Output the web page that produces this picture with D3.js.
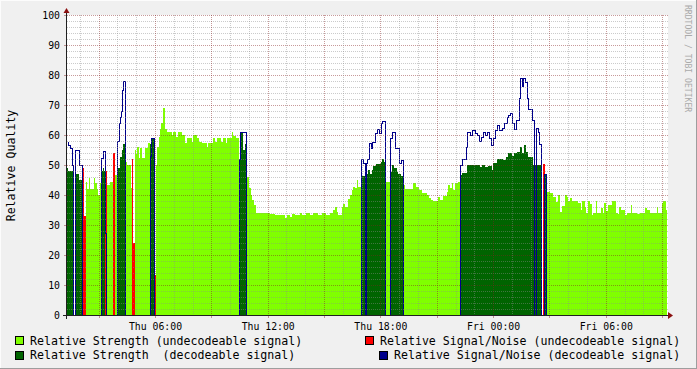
<!DOCTYPE html>
<html><head><meta charset="utf-8">
<script src="https://cdn.jsdelivr.net/npm/d3@7"></script>
<style>
html,body{margin:0;padding:0;background:#f0f0f0;}
svg{display:block;}
text{font-family:"DejaVu Sans Mono",monospace;}
</style></head><body>
<svg id="c" width="697" height="369"></svg>
<script>
// ---- DATA: [hours since Thu 00:00, value] (step series) ----
const strengthUndecodeable = [[1.31,0],[2.30,44.5],[2.38,42],[2.46,45.5],[2.54,42],[2.73,45.5],[2.83,44],[2.90,42],[2.99,40],[3.07,44],[3.11,0],
[3.42,43.3],[3.60,44.5],[3.76,0],[3.87,46.5],[3.99,0],[4.40,51],[4.51,50],[4.71,42.2],[4.76,0],
[4.92,55],[4.99,53.7],[5.06,56.1],[5.13,52.2],[5.20,55.8],[5.29,52.2],[5.47,55.8],[5.64,57.2],[5.71,0],
[6.05,50],[6.12,56],[6.21,59.5],[6.28,62],[6.34,64],[6.41,69],[6.53,62],[6.62,61.1],[6.89,60],[6.97,61],[7.10,59.4],[7.24,61],[7.42,60],
[7.60,57.4],[7.69,58.9],[7.95,57.8],[8.04,60],[8.22,58.9],[8.36,57.8],[8.49,57.2],[8.75,56.1],[8.84,57.2],[9.07,58.9],[9.19,57.8],
[9.32,58.9],[9.50,57.8],[9.60,58.9],[9.76,57.2],[9.85,58.9],[10.08,60.9],[10.17,59.8],[10.31,58.9],[10.47,0],
[10.91,46],[11.01,42.5],[11.11,40],[11.19,38.3],[11.27,36.7],[11.38,34],[12.12,33.6],[12.39,33.2],[12.92,32.4],[13.01,33.4],[13.19,32.7],
[13.28,33.7],[13.45,33.2],[13.72,33.9],[13.81,33.4],[14.04,33.9],[14.25,33.2],[14.41,33.9],[14.68,33.4],[14.89,33.9],[15.11,33.4],
[15.32,33.9],[15.49,35],[15.58,35.9],[15.68,34.4],[15.76,33.3],[15.94,36.1],[16.03,37],[16.12,36.1],[16.29,38.6],[16.38,40],[16.51,41.7],
[16.56,42.6],[16.65,42.2],[16.74,45],[16.83,42.6],[16.95,0],[18.26,44.5],[18.51,0],
[19.19,43.3],[19.31,41.9],[19.75,44.1],[19.90,42.6],[20.07,41.7],[20.20,40.6],[20.47,40],[20.59,39.1],[20.70,38.3],[20.82,38],[21.09,39.4],
[21.18,38.5],[21.35,39.7],[21.53,41.1],[21.62,43.3],[21.71,42.2],[21.80,43.9],[21.88,41.7],[21.97,43.9],[22.15,44.5],[22.24,0],
[26.82,41.1],[27.03,40.6],[27.19,39.4],[27.35,37.8],[27.46,40],[27.54,34.4],[27.67,36.3],[27.83,40],[27.95,39.4],[28.01,38.1],[28.10,38.9],
[28.19,38.1],[28.54,37.2],[28.67,35],[28.72,38.1],[28.90,36.1],[28.95,34.1],[29.07,38.1],[29.16,37],[29.25,33.3],[29.34,34.1],[29.48,38.1],
[29.55,34.1],[29.73,35.6],[29.84,34.1],[29.92,37.2],[30.01,34.8],[30.11,36.7],[30.32,38],[30.55,34.1],[30.64,33.6],[30.72,36.1],[30.80,35],
[31.03,33.3],[31.12,34.1],[31.33,36.7],[31.38,34.1],[31.68,33.6],[31.83,34.1],[32.09,35.6],[32.18,35],[32.36,34.1],[32.71,36.1],[32.77,34.1],
[32.98,37.2],[33.07,38],[33.19,35],[33.25,0]];

const snrUndecodeable = [[1.31,0],[1.62,50],[1.70,0],[2.14,49],[2.22,33],[2.30,0],[3.34,48],[3.42,0],[3.76,54],[3.87,0],
[4.76,51.9],[4.83,24],[4.92,0],[5.98,13.3],[6.05,0],[10.85,58.9],[10.91,0],[26.64,50.5],[26.75,0],[33.25,0]];

const strengthDecodeable = [[1.31,48.9],[1.37,48],[1.62,0],[1.74,47],[1.97,45],[2.11,0],[3.11,48],[3.22,48.9],[3.28,48],[3.32,0],
[3.99,49],[4.14,52.7],[4.24,55],[4.31,57],[4.40,0],[5.71,57],[5.81,58.9],[5.96,0],[10.47,52],[10.53,61],[10.67,55],[10.81,57],[10.86,0],
[16.95,46.3],[17.22,47.1],[17.36,48.3],[17.45,47.1],[17.54,48.5],[17.62,49.6],[17.75,50.2],[17.84,50.4],[18.02,51],[18.10,52],[18.19,51],[18.26,0],
[18.51,47.7],[18.62,50],[18.73,48.9],[18.87,47.8],[18.96,47],[19.08,46.3],[19.19,0],
[22.24,46.7],[22.33,47.2],[22.60,50],[23.31,49.2],[23.40,50],[23.57,49.2],[23.75,49.7],[23.93,48.3],[24.01,50.8],[24.19,51.9],[24.55,51.7],
[24.67,52.8],[24.81,53.9],[24.99,53],[25.12,53.9],[25.26,54.4],[25.44,55.9],[25.53,54.1],[25.65,56.7],[25.76,54.4],[25.88,52.8],[26.14,50],
[26.55,0],[26.75,47],[26.82,0],[33.25,0]];

const snrDecodeable = [[1.31,57.8],[1.38,56.7],[1.47,55.7],[1.60,50],[1.65,0],[1.74,55],[1.97,50],[2.11,0],[3.11,52.2],[3.22,54.8],[3.32,27.2],[3.38,0],
[3.99,58],[4.07,64],[4.11,66],[4.21,68],[4.26,75],[4.31,78],[4.40,0],[5.71,53],[5.81,59],[5.96,0],[10.47,52],[10.53,61],[10.86,0],
[16.95,51.9],[17.06,50.6],[17.16,0],[17.21,50.6],[17.30,51.9],[17.40,57.2],[17.49,55.6],[17.57,57.8],[17.71,60.6],[17.81,61.9],[17.93,60.6],
[18.02,63.9],[18.10,64.8],[18.26,0],[18.51,58.9],[18.62,60.9],[18.80,55.6],[19.01,50.6],[19.10,51.7],[19.19,0],
[22.24,50],[22.33,52],[22.56,56.1],[22.63,61.1],[22.77,60],[22.86,61.7],[23.04,60.8],[23.16,60],[23.27,58],[23.34,59.4],[23.45,61.1],[23.57,60],
[23.66,61.1],[23.80,58.9],[23.88,56.7],[23.98,59.1],[24.10,61.7],[24.23,63.3],[24.33,61.7],[24.46,62.2],[24.58,63.9],[24.73,65.9],[24.81,66.7],
[24.90,67.2],[24.99,63.9],[25.12,62],[25.22,65],[25.37,72.2],[25.44,78.9],[25.53,76.3],[25.61,78.9],[25.72,77.8],[25.79,72.2],[25.88,68.6],
[26.06,65],[26.18,0],[26.27,62.4],[26.38,61.1],[26.45,57],[26.55,0],[26.73,46.9],[26.82,0],[33.25,0]];

const timeDomainHours = [1.314, 33.314];
const yTickValues = [0,10,20,30,40,50,60,70,80,90,100];
const xTickHours = [6,12,18,24,30];
const xTickLabels = ["Thu 06:00","Thu 12:00","Thu 18:00","Fri 00:00","Fri 06:00"];
const legendLabels = ["Relative Strength (undecodeable signal)","Relative Signal/Noise (undecodeable signal)",
                      "Relative Strength  (decodeable signal)","Relative Signal/Noise (decodeable signal)"];
const yAxisTitle = "Relative Quality";
const watermark = "RRDTOOL / TOBI OETIKER";

// ---- RENDER ----
const W = 697, H = 369, X0 = 67, X1 = 668, Y0 = 315, Y1 = 15;
const C_LG = "#80ff00", C_DG = "#006400", C_RED = "#ff0000", C_BLUE = "#00008b";
const T = h => new Date(Date.UTC(2024,0,4) + h*3600000);
const svg = d3.select("#c");
const x = d3.scaleUtc().domain(timeDomainHours.map(T)).range([X0, X1]);
const y = d3.scaleLinear().domain([0,100]).range([Y0, Y1]);
const px = h => Math.round(x(T(h)));
const py = v => Math.round(y(v));

svg.append("rect").attr("width",W).attr("height",H).attr("fill","#f0f0f0");
// 3d border
svg.append("path").attr("d",`M0,${H}V0H${W}`).attr("fill","none").attr("stroke","#fcfcfc").attr("stroke-width",2);
svg.append("path").attr("d",`M0,${H}H${W}V0`).attr("fill","none").attr("stroke","#9e9e9e").attr("stroke-width",2);
svg.append("rect").attr("x",X0).attr("y",Y1).attr("width",X1-X0).attr("height",Y0-Y1).attr("fill","#fff");

const area = d3.area().curve(d3.curveStepAfter).x(d=>px(d[0])).y0(py(0)).y1(d=>py(d[1]));
const line = d3.line().curve(d3.curveStepAfter).x(d=>px(d[0])+0.5).y(d=>py(d[1])+0.5);

svg.append("path").attr("d",area(strengthUndecodeable)).attr("fill",C_LG).attr("shape-rendering","crispEdges");
svg.append("path").attr("d",area(snrUndecodeable)).attr("fill",C_RED).attr("shape-rendering","crispEdges");
svg.append("path").attr("d",area(strengthDecodeable)).attr("fill",C_DG).attr("shape-rendering","crispEdges");
svg.append("path").attr("d",line(snrDecodeable)).attr("fill","none").attr("stroke",C_BLUE).attr("stroke-width",1).attr("shape-rendering","crispEdges");

// grid
const gGrid = svg.append("g").attr("shape-rendering","crispEdges");
const GRID = "rgba(140,140,140,0.45)", MGRID = "rgba(130,30,30,0.45)";
const yMinor = d3.range(0,101,2);
yMinor.forEach(v=>{
  const major = v%10===0;
  const yy = py(v)+0.5;
  if (v>0) gGrid.append("line").attr("x1",X0).attr("x2",X1).attr("y1",yy).attr("y2",yy)
    .attr("stroke",major?MGRID:GRID).attr("stroke-dasharray","1,1");
  gGrid.append("line").attr("x1",X0-(major?3:1)).attr("x2",X0).attr("y1",yy).attr("y2",yy)
    .attr("stroke",major?MGRID:GRID);
});
x.ticks(d3.utcHour.every(1)).forEach(t=>{
  const major = t.getUTCHours()%3===0;
  const xx = Math.round(x(t))+0.5;
  gGrid.append("line").attr("x1",xx).attr("x2",xx).attr("y1",Y1).attr("y2",Y0)
    .attr("stroke",major?MGRID:GRID).attr("stroke-dasharray","1,1");
  gGrid.append("line").attr("x1",xx).attr("x2",xx).attr("y1",Y0).attr("y2",Y0+(major?3:1))
    .attr("stroke",major?MGRID:GRID);
});

// axes lines
svg.append("line").attr("x1",X0-4).attr("x2",X1).attr("y1",Y0+0.5).attr("y2",Y0+0.5).attr("stroke","#202020").attr("shape-rendering","crispEdges");
svg.append("line").attr("x1",X0-0.5).attr("x2",X0-0.5).attr("y1",Y0+4).attr("y2",Y1-3).attr("stroke","#202020").attr("shape-rendering","crispEdges");
svg.append("path").attr("d",`M${X1},${Y0-3}L${X1+5},${Y0+0.5}L${X1},${Y0+4}Z`).attr("fill","#8b1010");
svg.append("path").attr("d",`M${X0-3.5},${Y1-2}L${X0-0.5},${Y1-7}L${X0+2.5},${Y1-2}Z`).attr("fill","#8b1010");

// axis labels via d3 axes
const xAxis = d3.axisBottom(x).tickValues(xTickHours.map(T)).tickSize(0).tickPadding(6)
  .tickFormat((d,i)=>xTickLabels[i]);
const gx = svg.append("g").attr("transform",`translate(0,${Y0})`).call(xAxis);
gx.select(".domain").remove();
gx.selectAll("text").attr("font-family","DejaVu Sans Mono").attr("font-size","9.8px").attr("fill","#000").attr("dy","0.95em");

const yAxis = d3.axisLeft(y).tickValues(yTickValues).tickSize(0).tickPadding(7).tickFormat(d3.format("d"));
const gy = svg.append("g").attr("transform",`translate(${X0},0.5)`).call(yAxis);
gy.select(".domain").remove();
gy.selectAll("text").attr("font-family","DejaVu Sans Mono").attr("font-size","9.8px").attr("fill","#000");

svg.append("text").attr("transform","translate(14.5,165.5) rotate(-90)").attr("text-anchor","middle")
  .attr("font-size","11.6px").attr("fill","#000").text(yAxisTitle);

svg.append("text").attr("transform","translate(685,5) rotate(90)").attr("font-size","8.1px")
  .attr("fill","#aaaaaa").text(watermark);

// legend
const legendColors = [C_LG, C_RED, C_DG, C_BLUE];
const legendPos = [[15,336,30,345],[365,336,380,345],[15,350.5,30,359],[379,350.5,394,359]];
legendLabels.forEach((lab,i)=>{
  const p = legendPos[i];
  svg.append("rect").attr("x",p[0]+0.5).attr("y",p[1]+0.5).attr("width",8).attr("height",8)
    .attr("fill",legendColors[i]).attr("stroke","#000").attr("stroke-width",1).attr("shape-rendering","crispEdges");
  svg.append("text").attr("x",p[2]).attr("y",p[3]).attr("font-size","11.6px").attr("fill","#000")
    .attr("xml:space","preserve").style("white-space","pre").text(lab);
});
</script></body></html>
